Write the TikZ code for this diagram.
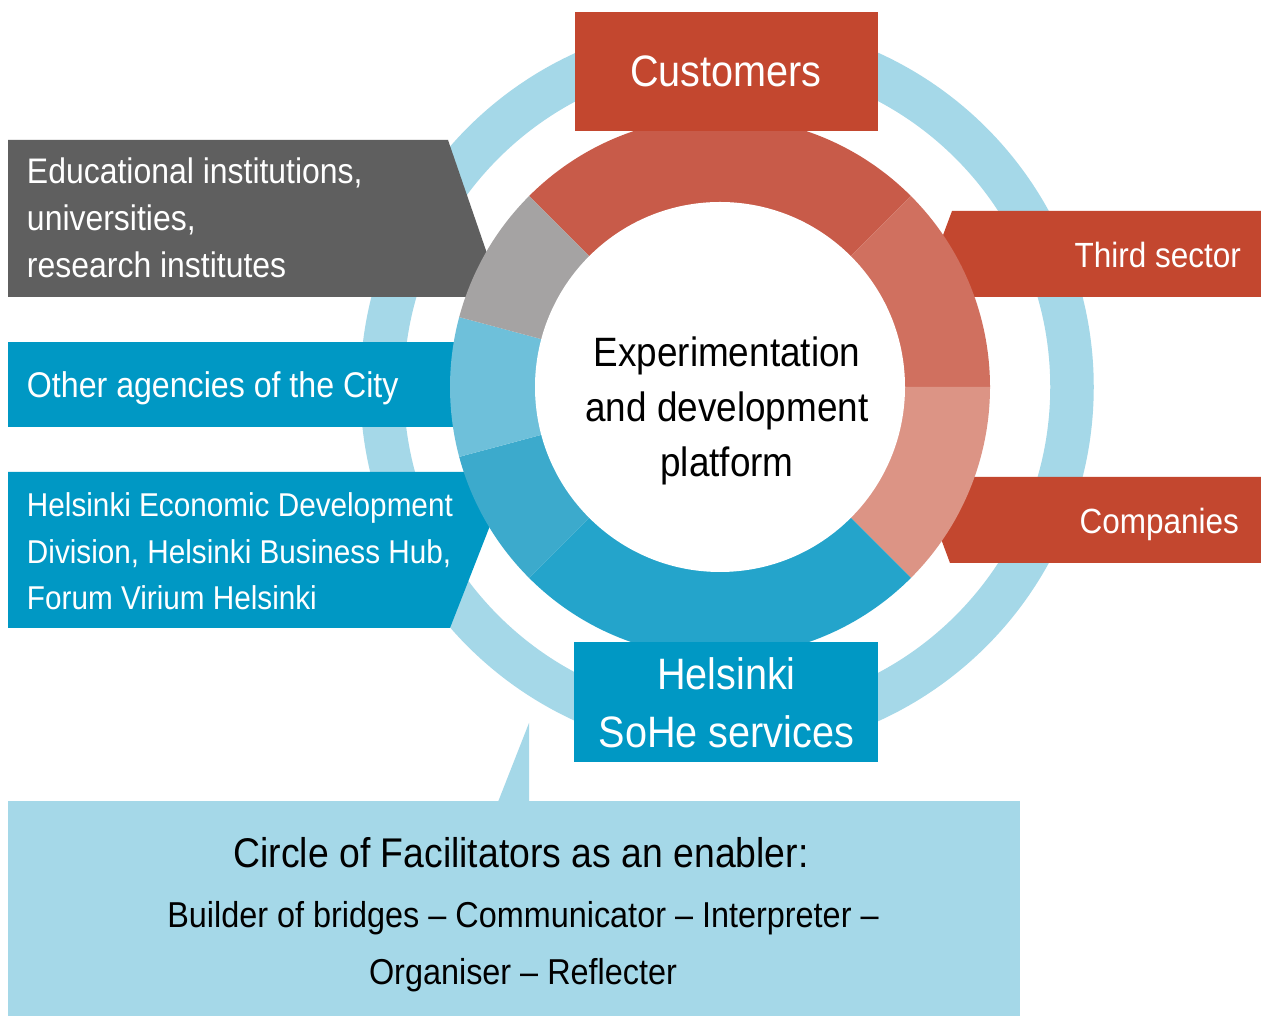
\documentclass[tikz,border=0pt]{standalone}
\usepackage{fontspec}
\setmainfont[FakeStretch=0.9]{Liberation Sans}

\definecolor{boxred}{HTML}{C3472F}
\definecolor{segcust}{HTML}{C85B49}
\definecolor{segthird}{HTML}{D0705F}
\definecolor{segcomp}{HTML}{DC9485}
\definecolor{seggrey}{HTML}{A5A3A3}
\definecolor{boxgrey}{HTML}{5F5F5F}
\definecolor{segother}{HTML}{6EC0DA}
\definecolor{segecon}{HTML}{3CAACC}
\definecolor{segsohe}{HTML}{24A4CB}
\definecolor{boxblue}{HTML}{0098C4}
\definecolor{paleblue}{HTML}{A5D8E8}

\newcommand\fsz[2]{\fontsize{#1}{#2}\selectfont}

\begin{document}
\begin{tikzpicture}[x=1pt,y=1pt,
  whitelabel/.style={text=white, inner sep=0pt, outer sep=0pt},
  darklabel/.style={text=black, inner sep=0pt, outer sep=0pt},
  ringband/.style={draw=paleblue, line width=43.5pt}]
\useasboundingbox (0,0) rectangle (1261,1016);
\fill[white] (0,0) rectangle (1261,1016);
\coordinate (dc) at (720,629);
\coordinate (rc) at (727,629);

% outer facilitator ring
\draw[ringband] (rc) circle[radius=345];

% partner boxes reaching in behind the platform ring
\fill[boxgrey] (8,876) -- (448,876) -- (502,719) -- (8,719) -- cycle;
\fill[boxblue] (8,674) rectangle (480,589);
\fill[boxblue] (8,544) -- (511,544) -- (450,388) -- (8,388) -- cycle;
\fill[boxred] (1261,805) -- (952,805) -- (920,719) -- (1261,719) -- cycle;
\fill[boxred] (1261,539) -- (918,539) -- (950,453) -- (1261,453) -- cycle;

% platform ring segments
\foreach \col/\a/\b in {segcust/45/135, segthird/0/45, segcomp/-45/0,
    segsohe/225/315, segecon/195/225, segother/165/195, seggrey/135/165}
  \fill[\col] (dc) -- ++(\a:270) arc[start angle=\a, end angle=\b, radius=270] -- cycle;
\fill[white] (dc) circle[radius=185];

% top and bottom boxes
\fill[boxred] (575,885) rectangle (878,1004);
\fill[boxblue] (574,254) rectangle (878,374);

% callout panel
\fill[paleblue] (8,0) rectangle (1020,215);
\fill[paleblue] (498,214) -- (529,293) -- (529,214) -- cycle;

% labels (multi-line nodes are anchored at the baseline of their last line)
\node[whitelabel, anchor=base, font=\fsz{44}{50}] (customers) at (726,929) {Customers};
\node[whitelabel, anchor=base, align=center, font=\fsz{44}{58}] (sohe) at (726.5,268) {Helsinki\\SoHe services};
\node[darklabel, anchor=base, align=center, font=\fsz{41}{55}] (platform) at (727,539) {Experimentation\\and development\\platform};
\node[whitelabel, anchor=base east, font=\fsz{35}{40}] (third) at (1241,748) {Third sector};
\node[whitelabel, anchor=base east, font=\fsz{35}{40}] (companies) at (1239,482) {Companies};
\node[whitelabel, anchor=base west, align=left, font=\fsz{35.5}{47}] (edu) at (27,738) {Educational institutions,\\universities,\\research institutes};
\node[whitelabel, anchor=base west, font=\fsz{35.7}{40}] (agencies) at (27,618) {Other agencies of the City};
\node[whitelabel, anchor=base west, align=left, font=\fsz{33}{46.7}] (econ) at (27,406) {Helsinki Economic Development\\Division, Helsinki Business Hub,\\Forum Virium Helsinki};
\node[darklabel, anchor=base, font=\fsz{41.5}{48}] (facilitators) at (521,148) {Circle of Facilitators as an enabler:};
\node[darklabel, anchor=base, align=center, font=\fsz{36}{57}] (roles) at (523,31) {Builder of bridges – Communicator – Interpreter –\\Organiser – Reflecter};
\end{tikzpicture}
\end{document}
